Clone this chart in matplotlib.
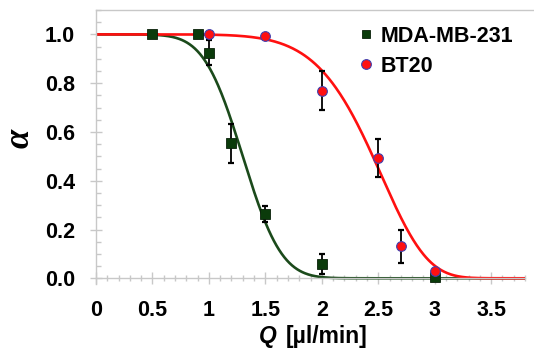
import math
import numpy as np
import matplotlib
matplotlib.use("Agg")
import matplotlib.pyplot as plt
from matplotlib.lines import Line2D
from matplotlib.ticker import MultipleLocator, FixedLocator

# ---- data ----
mda_q = [0.5, 0.9, 1.0, 1.2, 1.5, 2.0, 3.0]
mda_a = [1.0, 1.0, 0.925, 0.553, 0.263, 0.057, 0.005]
mda_err = [0.0, 0.0, 0.05, 0.08, 0.033, 0.041, 0.0]

bt_q = [1.0, 1.5, 2.0, 2.5, 2.7, 3.0]
bt_a = [1.0, 0.994, 0.769, 0.494, 0.132, 0.031]
bt_err = [0.0, 0.0, 0.079, 0.079, 0.068, 0.0]

# fitted-curve parameters
mda_mid, mda_width = 1.30, 0.27          # complementary normal CDF
bt_scale, bt_shape = 2.58, 7.2           # Weibull survival

xticks = [0, 0.5, 1, 1.5, 2, 2.5, 3, 3.5]
xtick_labels = ["0", "0.5", "1", "1.5", "2", "2.5", "3", "3.5"]
yticks = [0.0, 0.2, 0.4, 0.6, 0.8, 1.0]
ytick_labels = ["0.0", "0.2", "0.4", "0.6", "0.8", "1.0"]

labels = ["MDA-MB-231", "BT20"]

green = "#0b3b0b"
green_line = "#1b4a1b"
red = "#ff1010"
grey = "#c8c8c8"

plt.rcParams["font.family"] = ["Liberation Sans", "DejaVu Sans"]

fig = plt.figure(figsize=(5.34, 3.52), dpi=100)
W, H = 534, 352
left_px, right_px, top_px = 96, 525, 10
y0_px, y1_px = 278.3, 34.3
ppu = y0_px - y1_px
ymin, ymax = -0.025, 1.1
bottom_px = y0_px - ymin * ppu
ax = fig.add_axes([left_px / W, 1 - bottom_px / H, (right_px - left_px) / W,
                   (bottom_px - top_px) / H])

qq = np.linspace(0, 3.8, 500)
erf = np.frompyfunc(math.erf, 1, 1)
mda_curve = 0.5 * (1 - erf((qq - mda_mid) / (mda_width * math.sqrt(2))).astype(float))
bt_curve = np.exp(-(qq / bt_scale) ** bt_shape)

ax.plot(qq, mda_curve, color=green_line, lw=1.9, zorder=2)
ax.plot(qq, bt_curve, color=red, lw=1.9, zorder=2)

ax.errorbar(mda_q, mda_a, yerr=mda_err, fmt="none", ecolor="black",
            elinewidth=1.3, capsize=2.4, capthick=1.6, zorder=3)
ax.errorbar(bt_q, bt_a, yerr=bt_err, fmt="none", ecolor="black",
            elinewidth=1.3, capsize=2.4, capthick=1.6, zorder=3)

ax.plot(mda_q, mda_a, ls="none", marker="s", ms=7, mfc=green, mec="#0a200a",
        mew=0.6, zorder=4)
ax.plot(bt_q, bt_a, ls="none", marker="o", ms=7, mfc=red, mec="#4040b0",
        mew=0.8, zorder=5)

ax.set_xlim(0, 3.8)
ax.set_ylim(ymin, ymax)

ax.spines["right"].set_visible(False)
ax.spines["bottom"].set_position(("data", 0))
for s in ["left", "bottom", "top"]:
    ax.spines[s].set_color(grey)
    ax.spines[s].set_linewidth(1.0)

ax.xaxis.set_major_locator(FixedLocator(xticks))
ax.set_xticklabels(xtick_labels)
ax.xaxis.set_minor_locator(MultipleLocator(0.1))
ax.yaxis.set_major_locator(FixedLocator(yticks))
ax.set_yticklabels(ytick_labels)
ax.yaxis.set_minor_locator(MultipleLocator(0.05))

ax.tick_params(axis="x", which="major", direction="inout", length=9, width=1,
               color=grey, pad=11, labelsize=15.5)
ax.tick_params(axis="x", which="minor", direction="inout", length=5, width=1,
               color=grey)
ax.tick_params(axis="y", which="major", direction="inout", length=8.6, width=1,
               color=grey, pad=11, labelsize=15.5)
ax.tick_params(axis="y", which="minor", direction="in", length=3.6, width=1,
               color=grey)
for lab in ax.get_xticklabels() + ax.get_yticklabels():
    lab.set_fontweight("bold")

# top frame line extends to the right edge
fig.add_artist(Line2D([left_px / W, 1.0], [1 - top_px / H] * 2,
                      transform=fig.transFigure, color=grey, lw=1.0))
ax.spines["top"].set_visible(False)

# axis labels
fig.text(20 / W, 1 - 138 / H, "α", rotation=90, ha="center", va="center",
         fontsize=25, fontstyle="italic", fontweight="bold",
         family=["Liberation Serif", "DejaVu Serif"])
fig.text(277 / W, 1 - 337 / H, "Q", ha="right", va="center", fontsize=16.5,
         fontstyle="italic", fontweight="bold")
fig.text(286 / W, 1 - 337 / H, "[µl/min]", ha="left", va="center",
         fontsize=16.5, fontweight="bold")

handles = [Line2D([], [], ls="none", marker="s", ms=6, mfc=green, mec="#0a200a",
                  mew=0.6),
           Line2D([], [], ls="none", marker="o", ms=7, mfc=red, mec="#4040b0",
                  mew=0.8)]
leg = ax.legend(handles, labels, loc="upper left",
                bbox_to_anchor=(358 / W, 1 - 26 / H),
                bbox_transform=fig.transFigure, frameon=False,
                prop={"size": 15.5, "weight": "bold"}, handlelength=0.7,
                handletextpad=0.35, labelspacing=0.4, borderaxespad=0,
                borderpad=0)

fig.savefig("out.png", dpi=100)
